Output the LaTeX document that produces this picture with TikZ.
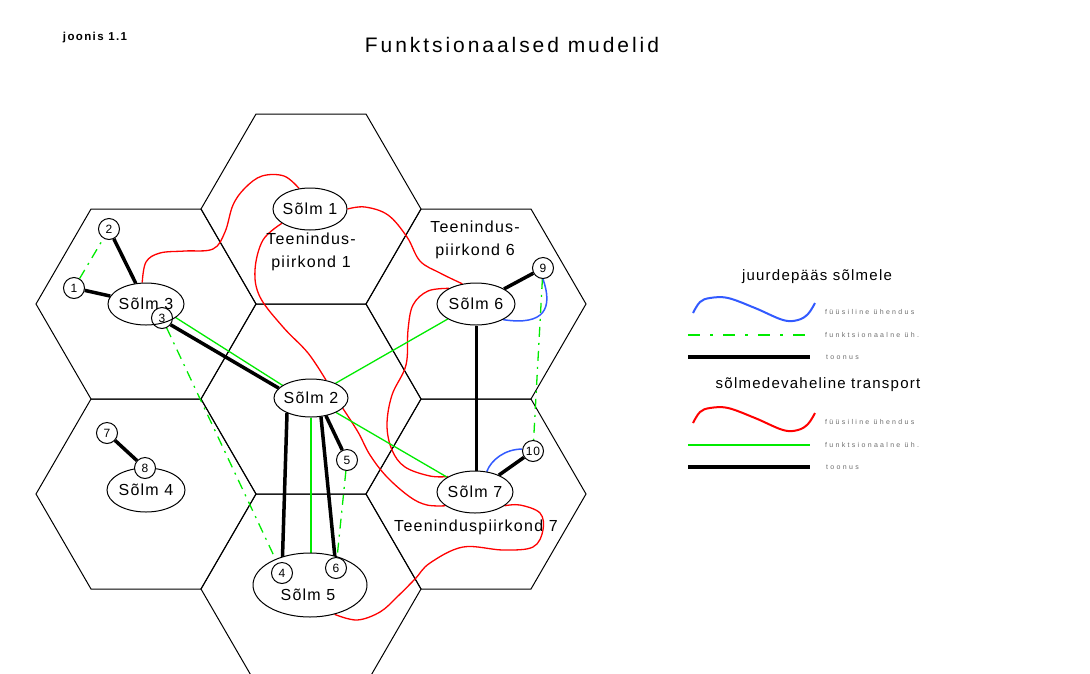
\documentclass[tikz,border=0pt]{standalone}
\usepackage{fontspec}
\setmainfont{Liberation Sans}
\newfontfamily\nodef{Liberation Sans}[LetterSpace=7.8]
\newfontfamily\titlef{Liberation Sans}[LetterSpace=14]
\newfontfamily\legf{Liberation Sans}[LetterSpace=33]
\newfontfamily\legtf{Liberation Sans}[LetterSpace=8.3]
\newfontfamily\joonf{Liberation Sans}[LetterSpace=12]
\usetikzlibrary{shapes.geometric}
\definecolor{myred}{RGB}{255,0,0}
\definecolor{mygreen}{RGB}{0,235,0}
\definecolor{myblue}{RGB}{50,90,255}
\definecolor{leggray}{RGB}{110,110,110}
\newcommand\zb[1]{\makebox[0pt][c]{#1}}
\pgfdeclarelayer{bg}
\pgfsetlayers{bg,main}
\begin{document}
\begin{tikzpicture}[x=1pt,y=-1pt,
  hexline/.style={black, line width=1pt},
  knot/.style={ellipse, draw, fill=white, line width=1pt, inner sep=0pt,
    font=\nodef\fontsize{16}{19}\selectfont},
  numc/.style={circle, draw, fill=white, line width=1pt, minimum size=21pt,
    inner sep=0pt, font=\nodef\fontsize{12}{14}\selectfont},
  txt/.style={inner sep=0pt, align=center, font=\nodef\fontsize{16}{23}\selectfont},
  thickl/.style={black, line width=3.5pt},
  greenl/.style={mygreen, line width=1.3pt},
  greendd/.style={mygreen, line width=1.3pt, dash pattern=on 10pt off 6pt on 2pt off 6pt},
  redl/.style={myred, line width=1.3pt},
  bluel/.style={myblue, line width=1.5pt},
  legtitle/.style={inner sep=0pt, font=\legtf\fontsize{15}{18}\selectfont},
  leglabel/.style={anchor=west, inner sep=0pt, text=leggray, font=\legf\fontsize{7}{8}\selectfont}
]
\useasboundingbox (0,0) rectangle (1090,673);
\clip (0,0) rectangle (1090,673);

% texts at top
\node[inner sep=0pt, font=\joonf\fontsize{11.5}{13}\bfseries\selectfont] (joon) at (95,38) {joonis 1.1};
\node[inner sep=0pt, font=\titlef\fontsize{21}{25}\selectfont] (title) at (512,45) {Funktsionaalsed mudelid};

% nodes
\node[knot, minimum width=74pt, minimum height=42pt] (s1) at (310,209) {\zb{Sõlm 1}};
\node[knot, minimum width=76pt, minimum height=42pt] (s3) at (146,304) {\zb{Sõlm 3}};
\node[knot, minimum width=74pt, minimum height=38pt] (s2) at (311,398) {\zb{Sõlm 2}};
\node[knot, minimum width=78pt, minimum height=42pt] (s6) at (476,304) {\zb{Sõlm 6}};
\node[knot, minimum width=76pt, minimum height=42pt] (s7) at (475,492) {\zb{Sõlm 7}};
\node[knot, minimum width=78pt, minimum height=44pt] (s4) at (146,490) {\zb{Sõlm 4}};
\node[knot, minimum width=114pt, minimum height=64pt] (s5) at (310,585) {};
\node[txt] (t5) at (308,595) {Sõlm 5};

\node[numc] (c1) at (74,288) {1};
\node[numc] (c2) at (109,229) {2};
\node[numc, fill=none] (c3) at (162,318) {3};
\node[numc] (c4) at (282,573) {4};
\node[numc] (c5) at (347,460) {5};
\node[numc] (c6) at (336,568) {6};
\node[numc] (c7) at (107,433) {7};
\node[numc] (c8) at (145,468) {8};
\node[numc] (c9) at (543,268) {9};
\node[numc] (c10) at (533,451) {10};

\node[txt] (tp1) at (311,252) {Teenindus-\\piirkond 1};
\node[txt] (tp6) at (475,240) {Teenindus-\\piirkond 6};
\node[txt] (tp7) at (476,527) {Teeninduspiirkond 7};

\begin{pgfonlayer}{bg}
\fill[white] (0,0) rectangle (1090,673);
\foreach \cx/\cy in {311/209, 146/304, 476/304, 311/399, 146/494, 476/494, 311/589}
  \draw[hexline] (\cx-110,\cy) -- (\cx-55,\cy-95) -- (\cx+55,\cy-95) -- (\cx+110,\cy)
     -- (\cx+55,\cy+95) -- (\cx-55,\cy+95) -- cycle;

% red: physical transport links
\draw[redl] plot[smooth, tension=0.6] coordinates {(s3.100) (146,262) (160,253) (185,251) (213,249) (225,232) (233,205) (245,188) (262,176) (284,176) (s1.118)};
\draw[redl] plot[smooth, tension=0.6] coordinates {(s1.east) (365,207) (388,215) (407,237) (420,261) (440,273) (s6.124)};
\draw[redl] plot[smooth, tension=0.6] coordinates {(s1.207) (263,240) (255,270) (260,297) (283,327) (308,353) (s2.50)};
\draw[redl] plot[smooth, tension=0.6] coordinates {(s2.-18) (358,432) (370,455) (387,477) (410,497) (427,505) (s7.-155)};
\draw[redl] plot[smooth, tension=0.6] coordinates {(s7.-25) (520,505) (540,513) (543,530) (533,547) (503,550) (463,547) (430,563) (415,579) (397,597) (380,612) (357,620) (s5.-50)};
\draw[redl] plot[smooth, tension=0.6] coordinates {(s6.150) (428,291) (413,305) (408,330) (406,365) (392,395) (387,425) (392,450) (405,467) (430,476) (s7.150)};

% green functional links
\draw[greenl] (c3.12) -- (s2.156);
\draw[greenl] (s2.31) -- (s6.208);
\draw[greenl] (s2.-30) -- (s7.152);
\draw[greenl] (s2.south) -- (s2.south |- s5.north);
\draw[greendd] (c1) -- (c2);
\draw[greendd] (c3) -- (c4);
\draw[greendd] (c5) -- (c6);
\draw[greendd] (c9) -- (c10);

% black thick links
\draw[thickl] (c1) -- (s3);
\draw[thickl] (c2) -- (s3);
\draw[thickl] (c3.-38) -- (s2.163);
\draw[thickl] (s2.212) -- (c4);
\draw[thickl] (s2.-62) -- (c6);
\draw[thickl] (s2.-50) -- (c5);
\draw[thickl] (s6) -- (c9);
\draw[black, line width=3pt] (s6.south) -- (s6.south |- s7.north);
\draw[thickl] (s7) -- (c10);
\draw[thickl] (c7) -- (c8);

% blue access links
\draw[bluel] (c9.south) .. controls (553,308) and (545,326) .. (s6.-30);
\draw[bluel] (s7.60) .. controls (491,460) and (505,449) .. (c10.170);
\end{pgfonlayer}

% legend
\node[legtitle] (lt1) at (817,277) {juurdepääs sõlmele};
\draw[myblue, line width=2pt] plot[smooth, tension=0.6] coordinates {(693,313) (700,302) (710,298) (728,298) (755,308) (783,320) (798,320) (808,314) (815,303)};
\node[leglabel] (ll1) at (825,312) {füüsiline ühendus};
\draw[mygreen, line width=2pt, dash pattern=on 12pt off 10pt on 3pt off 10pt] (688,335) -- (808,335);
\node[leglabel] (ll2) at (825,335) {funktsionaalne üh.};
\draw[black, line width=4pt] (688,357) -- (810,357);
\node[leglabel] (ll3) at (826,357) {toonus};

\node[legtitle] (lt2) at (818,385) {sõlmedevaheline transport};
\draw[myred, line width=2pt] plot[smooth, tension=0.6] coordinates {(693,423) (700,412) (710,408) (728,408) (755,418) (783,430) (798,430) (808,424) (815,413)};
\node[leglabel] (ll4) at (825,422) {füüsiline ühendus};
\draw[mygreen, line width=2pt] (688,445) -- (810,445);
\node[leglabel] (ll5) at (825,445) {funktsionaalne üh.};
\draw[black, line width=4pt] (688,467) -- (810,467);
\node[leglabel] (ll6) at (826,467) {toonus};
\end{tikzpicture}
\end{document}
